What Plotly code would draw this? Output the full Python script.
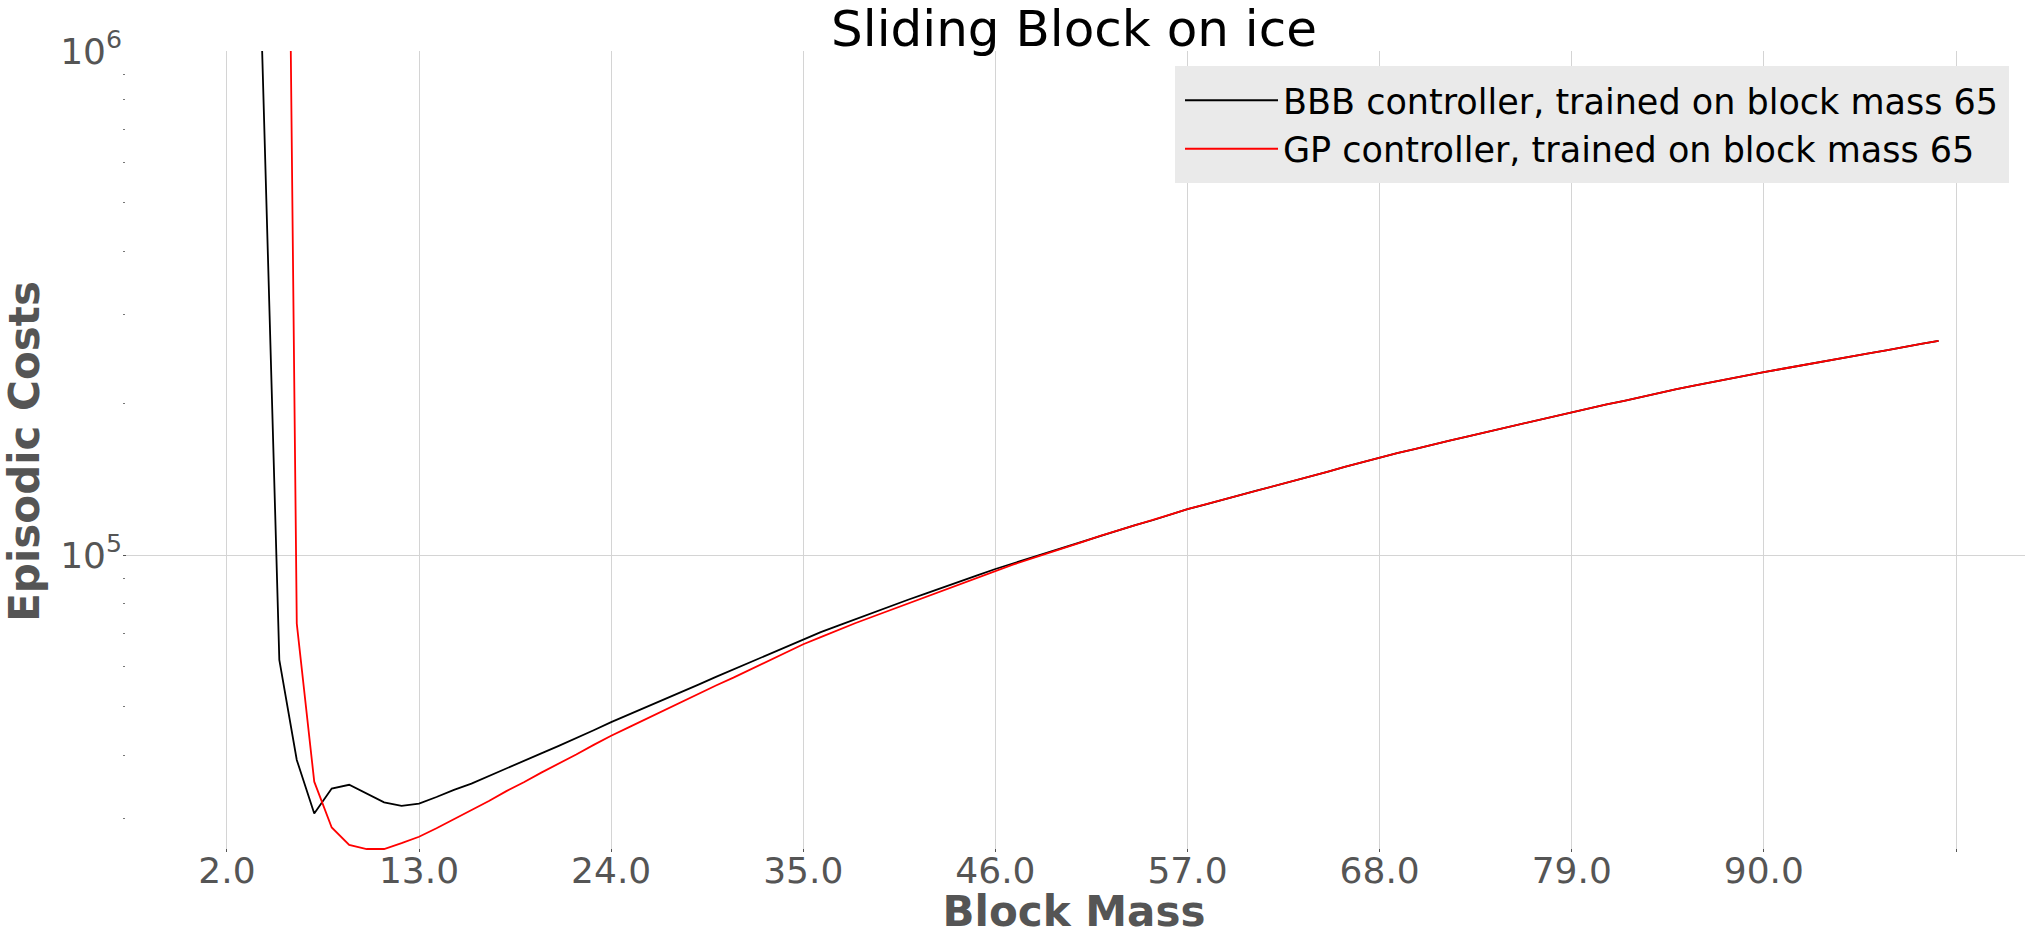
import plotly.graph_objects as go

block_mass = list(range(1, 101))

bbb_costs = [
    6300000, 4000000, 2000000, 1050000, 61900, 39200, 30700, 34400, 35000, 33600,
    32300, 31800, 32100, 33100, 34200, 35200, 36400, 37700, 39000, 40400,
    41800, 43400, 44900, 46600, 48200, 49900, 51600, 53500, 55300, 57300,
    59300, 61400, 63500, 65800, 68100, 70300, 72400, 74600, 76900, 79100,
    81500, 83800, 86300, 88700, 91200, 93800, 96200, 98600, 101200, 103800,
    106400, 109100, 111700, 114600, 117200, 120200, 123300, 125900, 128800, 131500,
    134300, 137100, 140000, 143200, 146200, 149600, 152800, 156300, 159200, 162200,
    165600, 168700, 171800, 175000, 178200, 181600, 184900, 188800, 192300, 195400,
    199100, 202300, 206100, 209400, 213300, 216800, 220300, 223400, 227000, 230700,
    233900, 237100, 241000, 244300, 247700, 251200, 254700, 258800, 262400, 266100,
]

gp_costs = [
    500000000, 400000000, 300000000, 200000000, 150000000, 73100, 35500, 28800, 26600, 26100,
    26100, 26800, 27600, 28700, 29900, 31200, 32500, 34000, 35400, 37000,
    38500, 40200, 42000, 43800, 45500, 47300, 49200, 51100, 53100, 55100,
    57100, 59300, 61500, 64000, 66500, 68700, 71000, 73300, 75500, 77800,
    80200, 82600, 85100, 87700, 90400, 93100, 95700, 98200, 100700, 103500,
    106200, 109100, 111700, 114600, 117200, 120200, 123300, 125900, 128800, 131500,
    134300, 137100, 140000, 143200, 146200, 149600, 152800, 156300, 159200, 162200,
    165600, 168700, 171800, 175000, 178200, 181600, 184900, 188800, 192300, 195400,
    199100, 202300, 206100, 209400, 213300, 216800, 220300, 223400, 227000, 230700,
    233900, 237100, 241000, 244300, 247700, 251200, 254700, 258800, 262400, 266100,
]

x_tick_vals = [2, 13, 24, 35, 46, 57, 68, 79, 90]
x_tick_text = ["2.0", "13.0", "24.0", "35.0", "46.0", "57.0", "68.0", "79.0", "90.0"]
x_unlabeled_tick = [101]
y_tick_vals = [1e5, 1e6]
y_tick_text = ["10<sup>5</sup>", "10<sup>6</sup>"]
y_minor_vals = [3e4, 4e4, 5e4, 6e4, 7e4, 8e4, 9e4,
                2e5, 3e5, 4e5, 5e5, 6e5, 7e5, 8e5, 9e5]

FONT = "DejaVu Sans"
GRID = "#d4d4d4"
TICKC = "#555555"
LEGBG = "#eaeaea"

fig = go.Figure()
fig.add_trace(go.Scatter(
    x=block_mass, y=bbb_costs, mode="lines",
    name="BBB controller, trained on block mass 65",
    line=dict(color="black", width=1.8), legendgroup="a",
))
fig.add_trace(go.Scatter(
    x=block_mass, y=gp_costs, mode="lines",
    name="GP controller, trained on block mass 65",
    line=dict(color="red", width=1.8), legendgroup="b",
))

fig.update_layout(
    width=2035, height=936,
    margin=dict(l=123, r=10, t=51, b=84),
    paper_bgcolor="white", plot_bgcolor="white",
    font=dict(family=FONT, color=TICKC),
    title=dict(text="Sliding Block on ice", x=0.5, xref="paper",
               y=1 - 28 / 936, yref="container", yanchor="middle",
               font=dict(family=FONT, size=50, color="black")),
    showlegend=True,
    legend=dict(
        x=(2009 - 123) / 1902, xanchor="right",
        y=(852 - 66) / 801, yanchor="top",
        bgcolor=LEGBG, bordercolor=LEGBG, borderwidth=5,
        font=dict(family=FONT, size=35, color="black"),
        traceorder="grouped", tracegroupgap=0, itemwidth=93,
    ),
    xaxis=dict(
        range=[-3.95, 104.95], automargin=False,
        tickmode="array", tickvals=x_tick_vals, ticktext=x_tick_text,
        tickfont=dict(family=FONT, size=36, color=TICKC),
        ticklabelstandoff=-6,
        ticks="inside", ticklen=3, tickcolor=TICKC, tickwidth=1,
        showgrid=True, gridcolor=GRID, gridwidth=1,
        zeroline=False, showline=False,
        minor=dict(tickmode="array", tickvals=x_unlabeled_tick, ticks="inside",
                   ticklen=3, tickcolor=TICKC, tickwidth=1,
                   showgrid=True, gridcolor=GRID, gridwidth=1),
        title=dict(text="Block Mass", standoff=14,
                   font=dict(family=FONT, size=42, color=TICKC, weight="bold")),
    ),
    yaxis=dict(
        type="log", range=[4.4107, 6.0], automargin=False,
        tickmode="array", tickvals=y_tick_vals, ticktext=y_tick_text,
        tickfont=dict(family=FONT, size=36, color=TICKC),
        ticks="inside", ticklen=3, tickcolor=TICKC, tickwidth=1,
        showgrid=True, gridcolor=GRID, gridwidth=1,
        zeroline=False, showline=False,
        minor=dict(tickmode="array", tickvals=y_minor_vals, ticks="inside",
                   ticklen=2, tickcolor="#777777", tickwidth=1, showgrid=False),
        title=dict(text="Episodic Costs", standoff=12,
                   font=dict(family=FONT, size=42, color=TICKC, weight="bold")),
    ),
)

fig.write_html("out.html")
